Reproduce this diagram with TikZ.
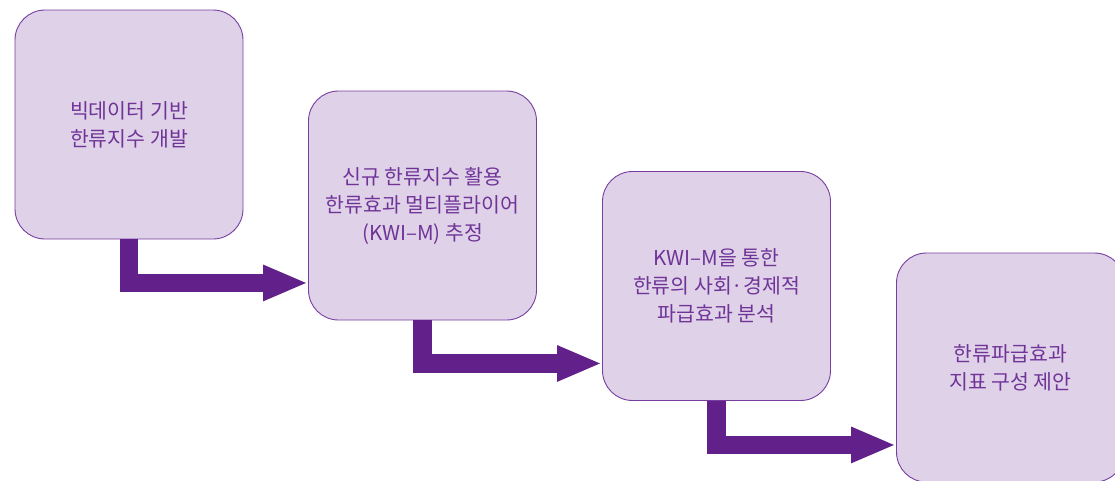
\documentclass[tikz,border=0pt]{standalone}
\usepackage{fontspec}
\setmainfont{Noto Sans CJK KR}
\usetikzlibrary{arrows.meta}
\definecolor{boxfill}{RGB}{223,210,232}
\definecolor{boxline}{RGB}{120,62,160}
\definecolor{txt}{RGB}{112,52,152}
\definecolor{arrowc}{RGB}{98,33,138}
\tikzset{
  stepbox/.style={draw=boxline, line width=0.9pt, fill=boxfill, rounded corners=30pt,
    minimum width=228pt, minimum height=229pt, text=txt, align=center,
    font=\fontsize{20.5}{28}\selectfont, inner sep=0pt},
  flow/.style={draw=arrowc, line width=18.5pt, line join=miter,
    -{Triangle[length=45pt,width=33pt]}, arrowc}
}
\begin{document}
\begin{tikzpicture}[x=1pt,y=-1pt]
\useasboundingbox (0,0) rectangle (1115,480);
\node[stepbox] (b1) at (129,124.5) {빅데이터 기반\\한류지수 개발};
\node[stepbox] (b2) at (422.5,205.5) {신규 한류지수 활용\\한류효과 멀티플라이어\\(KWI–M) 추정};
\node[stepbox] (b3) at (716.5,286) {KWI–M을 통한\\한류의 사회·경제적\\파급효과 분석};
\node[stepbox] (b4) at (1010.5,367.5) {한류파급효과\\지표 구성 제안};
\draw[flow] (b1.south) |- ([yshift=37.5pt]b2.south west);
\draw[flow] (b2.south) |- ([yshift=37.5pt]b3.south west);
\draw[flow] (b3.south) |- ([yshift=37.5pt]b4.south west);
\end{tikzpicture}
\end{document}
